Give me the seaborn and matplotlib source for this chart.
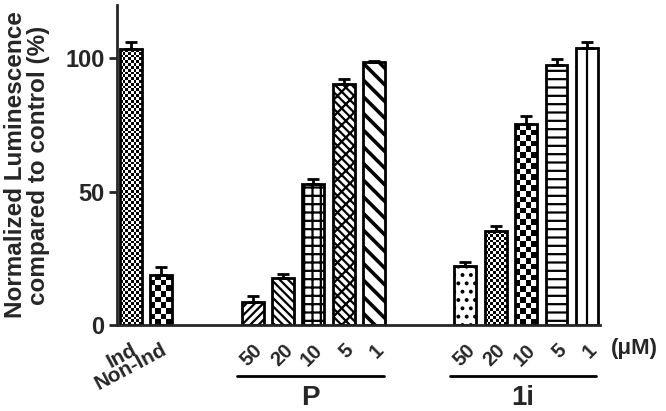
import numpy as np
import pandas as pd
import seaborn as sns
import matplotlib.pyplot as plt
import matplotlib.transforms as mtransforms

# values
keys = ['Ind', 'Non-Ind', 'P 50', 'P 20', 'P 10', 'P 5', 'P 1',
        '1i 50', '1i 20', '1i 10', '1i 5', '1i 1']
tick_text = ['Ind', 'Non-Ind', '50', '20', '10', '5', '1',
             '50', '20', '10', '5', '1']
means = [103.4, 18.8, 8.8, 17.5, 52.9, 90.5, 98.6, 22.2, 35.1, 75.2, 97.5, 104.0]
errors = [2.9, 3.1, 2.1, 1.7, 1.9, 1.9, 0.3, 1.6, 2.1, 3.1, 2.1, 2.3]
groups = ['P', '1i']

data = pd.DataFrame({'key': keys, 'value': means})

# empty slots between the groups
order = keys[:2] + ['gap1', 'gap2'] + keys[2:7] + ['gap3', 'gap4'] + keys[7:]

sns.set_style('ticks')
plt.rcParams['font.family'] = ['Liberation Sans', 'DejaVu Sans']
plt.rcParams['font.weight'] = 'bold'
plt.rcParams['hatch.linewidth'] = 1.6

fig = plt.figure(figsize=(6.66, 4.11), dpi=100)
ax = fig.add_axes([0.1757, 0.2092, 0.7252, 0.7786])

sns.barplot(data=data, x='key', y='value', order=order, color='white',
            edgecolor='black', linewidth=2, width=0.72, saturation=1,
            errorbar=None, ax=ax)

ax.set_xlim(-0.46, 15.43)
ax.set_ylim(0, 120)

bars = list(ax.patches)
hatches = [None, None, '////', '\\\\\\\\', '++', 'xx\\\\', '\\\\',
           '..', None, None, '--', None]
checker = {0: 2.8, 8: 2.8, 1: 5.6, 9: 5.6}

for i, (bar, h) in enumerate(zip(bars, hatches)):
    bar.set_edgecolor('black')
    if h:
        bar.set_hatch(h)
        if i == 6 and hasattr(bar, 'set_hatch_linewidth'):
            bar.set_hatch_linewidth(2.6)
    if i in checker:
        # checkerboard texture clipped to the bar
        bar.set_facecolor('none')
        x0, y0 = bar.get_x(), bar.get_y()
        x1, y1 = x0 + bar.get_width(), y0 + bar.get_height()
        p0 = ax.transData.transform((x0, y0))
        p1 = ax.transData.transform((x1, y1))
        cell = checker[i]
        nc = max(1, int(round((p1[0] - p0[0]) / cell)))
        nr = max(1, int(round((p1[1] - p0[1]) / cell)))
        board = (np.add.outer(np.arange(nr), np.arange(nc)) % 2).astype(float)
        im = ax.imshow(board, cmap='gray_r', vmin=0, vmax=1, origin='lower',
                       extent=(x0, x1, y0, y1), interpolation='nearest',
                       aspect='auto', zorder=0.5)
        im.set_clip_path(bar)
    if i == 11:
        cx = bar.get_x() + bar.get_width() / 2
        ax.plot([cx, cx], [0, bar.get_height()], color='black', lw=1.6, zorder=1.5)

ax.set_xlim(-0.46, 15.43)
ax.set_ylim(0, 120)

centers = [b.get_x() + b.get_width() / 2 for b in bars]
ax.errorbar(centers, means, yerr=[np.zeros(len(errors)), errors], fmt='none',
            ecolor='black', elinewidth=2, capsize=4.5, capthick=2, zorder=3)

# axes styling
for side in ['top', 'right']:
    ax.spines[side].set_visible(False)
for side in ['left', 'bottom']:
    ax.spines[side].set_linewidth(2)
ax.set_yticks([0, 50, 100])
ax.tick_params(axis='y', width=2, length=6, labelsize=17, pad=3)
ax.tick_params(axis='x', length=0, pad=11)

ax.set_xticks(centers)
ax.set_xticklabels(tick_text, fontsize=14.5)
for i, lab in enumerate(ax.get_xticklabels()):
    if i < 2:
        lab.set_rotation(28)
        lab.set_fontsize(15)
    else:
        lab.set_rotation(45)
    lab.set_ha('right')
    lab.set_va('top')
    lab.set_rotation_mode('anchor')

ax.set_xlabel('')
ax.set_ylabel('Normalized Luminescence\ncompared to control (%)',
              fontsize=17.5, fontweight='bold', linespacing=1.0)
ax.yaxis.set_label_coords(-0.138, 0.5)

# group brackets under the concentrations
trans = mtransforms.blended_transform_factory(ax.transData, ax.transAxes)
for name, (a, b) in zip(groups, [(2, 6), (7, 11)]):
    xa = bars[a].get_x() - 0.15
    xb = bars[b].get_x() + bars[b].get_width() - 0.05
    ax.plot([xa, xb], [-0.159, -0.159], color='black', lw=2, transform=trans,
            clip_on=False)
    ax.text((xa + xb) / 2, -0.228, name, transform=trans, ha='center',
            va='center', fontsize=20, fontweight='bold')

fig.text(0.953, 0.153, '(μM)', ha='center', va='center', fontsize=16,
         fontweight='bold')

fig.savefig('out.png', dpi=100)
plt.close()
